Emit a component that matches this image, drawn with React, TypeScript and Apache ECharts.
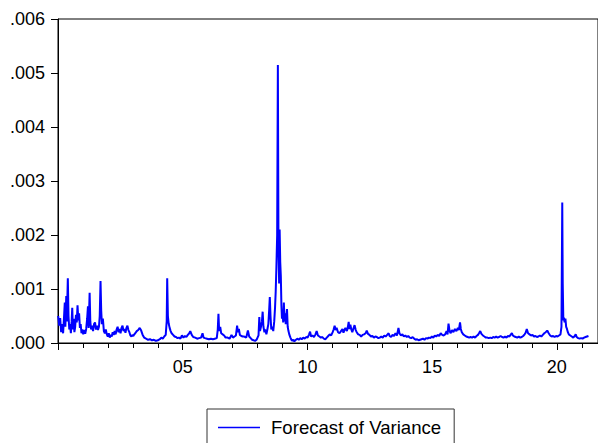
import React, { useEffect, useRef } from "react";
import * as echarts from "echarts";

// Forecast of conditional variance, [decimal year, variance]
const period2000to2004: [number, number][] = [
  [2000.008, 5.0e-4], [2000.047, 3.2e-4], [2000.087, 4.6e-4], [2000.126, 2.0e-4], [2000.165, 3.5e-4],
  [2000.205, 1.8e-4], [2000.244, 5.0e-4], [2000.272, 7.5e-4], [2000.295, 3.0e-4], [2000.331, 8.7e-4],
  [2000.354, 4.0e-4], [2000.394, 12.0e-4], [2000.421, 5.0e-4], [2000.453, 2.5e-4], [2000.484, 3.5e-4],
  [2000.516, 1.8e-4], [2000.547, 4.0e-4], [2000.571, 6.5e-4], [2000.598, 2.5e-4], [2000.630, 4.5e-4],
  [2000.657, 2.0e-4], [2000.689, 3.0e-4], [2000.720, 5.2e-4], [2000.752, 3.8e-4], [2000.783, 7.0e-4],
  [2000.815, 4.2e-4], [2000.846, 5.5e-4], [2000.878, 2.8e-4], [2000.909, 3.5e-4], [2000.941, 1.8e-4],
  [2000.972, 2.5e-4], [2001.012, 1.6e-4], [2001.051, 2.4e-4], [2001.091, 1.7e-4], [2001.130, 2.6e-4],
  [2001.169, 4.5e-4], [2001.201, 6.8e-4], [2001.228, 2.8e-4], [2001.268, 9.3e-4], [2001.295, 4.0e-4],
  [2001.327, 2.5e-4], [2001.366, 3.2e-4], [2001.406, 2.2e-4], [2001.445, 3.5e-4], [2001.484, 3.8e-4],
  [2001.524, 2.5e-4], [2001.563, 3.2e-4], [2001.602, 2.4e-4], [2001.642, 3.0e-4], [2001.673, 5.0e-4],
  [2001.705, 11.5e-4], [2001.732, 6.0e-4], [2001.760, 3.5e-4], [2001.799, 4.5e-4], [2001.839, 2.2e-4],
  [2001.878, 1.8e-4], [2001.917, 2.5e-4], [2001.957, 1.6e-4], [2001.996, 1.2e-4], [2002.035, 1.8e-4],
  [2002.075, 1.0e-4], [2002.114, 1.5e-4], [2002.154, 1.2e-4], [2002.193, 2.0e-4], [2002.232, 1.5e-4],
  [2002.272, 2.2e-4], [2002.311, 1.6e-4], [2002.350, 2.5e-4], [2002.390, 3.0e-4], [2002.429, 2.0e-4],
  [2002.468, 2.6e-4], [2002.508, 1.8e-4], [2002.547, 2.8e-4], [2002.587, 3.2e-4], [2002.626, 2.2e-4],
  [2002.665, 2.6e-4], [2002.705, 1.9e-4], [2002.744, 2.8e-4], [2002.783, 3.2e-4], [2002.823, 2.4e-4],
  [2002.862, 2.0e-4], [2002.902, 1.4e-4], [2002.941, 1.2e-4], [2002.980, 1.5e-4], [2003.020, 1.3e-4],
  [2003.059, 1.6e-4], [2003.098, 1.8e-4], [2003.157, 2.2e-4], [2003.217, 2.4e-4], [2003.276, 2.8e-4],
  [2003.335, 2.3e-4], [2003.394, 1.5e-4], [2003.453, 1.0e-4], [2003.531, 0.8e-4], [2003.610, 0.6e-4],
  [2003.689, 0.7e-4], [2003.768, 0.5e-4], [2003.846, 0.6e-4], [2003.925, 0.4e-4], [2004.004, 0.5e-4],
  [2004.083, 0.7e-4], [2004.142, 1.0e-4], [2004.201, 0.8e-4], [2004.260, 1.2e-4], [2004.319, 1.5e-4],
  [2004.358, 4.0e-4], [2004.378, 12.0e-4], [2004.406, 5.0e-4], [2004.437, 3.6e-4], [2004.476, 2.8e-4],
  [2004.516, 2.2e-4], [2004.555, 1.8e-4], [2004.614, 1.5e-4], [2004.673, 1.2e-4], [2004.732, 1.1e-4],
  [2004.791, 0.9e-4], [2004.850, 1.0e-4], [2004.909, 0.8e-4], [2004.968, 1.4e-4],
];

const period2005to2007: [number, number][] = [
  [2005.028, 1.0e-4], [2005.087, 1.3e-4], [2005.146, 1.1e-4], [2005.205, 1.5e-4], [2005.264, 1.8e-4],
  [2005.303, 2.2e-4], [2005.362, 1.5e-4], [2005.421, 1.1e-4], [2005.500, 1.0e-4], [2005.579, 0.8e-4],
  [2005.657, 0.9e-4], [2005.736, 1.0e-4], [2005.795, 1.8e-4], [2005.835, 1.0e-4], [2005.894, 0.9e-4],
  [2005.972, 0.8e-4], [2006.051, 0.7e-4], [2006.130, 0.8e-4], [2006.209, 0.7e-4], [2006.287, 0.8e-4],
  [2006.366, 0.9e-4], [2006.405, 2.5e-4], [2006.433, 5.4e-4], [2006.461, 2.2e-4], [2006.504, 3.0e-4],
  [2006.543, 1.8e-4], [2006.602, 1.6e-4], [2006.661, 1.4e-4], [2006.720, 1.0e-4], [2006.799, 1.0e-4],
  [2006.878, 0.8e-4], [2006.957, 1.5e-4], [2007.016, 1.0e-4], [2007.075, 1.2e-4], [2007.134, 1.4e-4],
  [2007.181, 3.2e-4], [2007.213, 2.0e-4], [2007.252, 2.6e-4], [2007.291, 1.5e-4], [2007.350, 1.3e-4],
  [2007.409, 1.2e-4], [2007.468, 1.2e-4], [2007.547, 1.0e-4], [2007.614, 2.3e-4], [2007.665, 1.2e-4],
  [2007.724, 0.9e-4], [2007.783, 0.6e-4], [2007.842, 0.5e-4], [2007.902, 0.4e-4], [2007.961, 0.6e-4],
  [2008.000, 1.0e-4], [2008.039, 1.4e-4],
];

const period2008to2009: [number, number][] = [
  [2008.071, 4.8e-4], [2008.098, 2.2e-4], [2008.138, 3.0e-4], [2008.177, 4.0e-4], [2008.205, 5.8e-4],
  [2008.236, 3.0e-4], [2008.276, 2.0e-4], [2008.315, 2.5e-4], [2008.354, 1.6e-4], [2008.394, 2.5e-4],
  [2008.433, 3.5e-4], [2008.465, 6.0e-4], [2008.492, 8.5e-4], [2008.520, 5.0e-4], [2008.551, 2.5e-4],
  [2008.591, 3.0e-4], [2008.630, 2.2e-4], [2008.669, 4.0e-4], [2008.701, 6.5e-4], [2008.728, 9.5e-4],
  [2008.756, 14.0e-4], [2008.787, 20.0e-4], [2008.815, 51.5e-4], [2008.839, 18.0e-4], [2008.866, 11.0e-4],
  [2008.886, 21.0e-4], [2008.910, 15.0e-4], [2008.933, 12.5e-4], [2008.957, 7.0e-4], [2008.980, 4.5e-4],
  [2009.004, 6.0e-4], [2009.028, 3.8e-4], [2009.055, 7.5e-4], [2009.083, 4.0e-4], [2009.106, 5.5e-4],
  [2009.130, 3.5e-4], [2009.154, 4.8e-4], [2009.181, 6.3e-4], [2009.209, 3.0e-4], [2009.240, 2.2e-4],
  [2009.279, 1.5e-4], [2009.319, 1.0e-4], [2009.358, 0.6e-4], [2009.398, 0.4e-4], [2009.437, 0.6e-4],
  [2009.476, 0.3e-4], [2009.516, 0.5e-4], [2009.594, 0.8e-4],
];

const period2009to2014: [number, number][] = [
  [2009.653, 0.6e-4], [2009.712, 0.9e-4], [2009.771, 0.7e-4], [2009.831, 1.0e-4], [2009.890, 0.8e-4],
  [2009.949, 1.1e-4], [2010.008, 1.0e-4], [2010.067, 1.6e-4], [2010.106, 2.1e-4], [2010.146, 1.2e-4],
  [2010.205, 1.4e-4], [2010.264, 1.1e-4], [2010.323, 1.6e-4], [2010.370, 2.2e-4], [2010.421, 1.4e-4],
  [2010.480, 1.2e-4], [2010.539, 1.0e-4], [2010.598, 1.1e-4], [2010.657, 0.8e-4], [2010.717, 0.7e-4],
  [2010.776, 1.0e-4], [2010.835, 1.3e-4], [2010.894, 1.6e-4], [2010.953, 1.4e-4], [2011.012, 2.0e-4],
  [2011.051, 2.5e-4], [2011.091, 3.2e-4], [2011.130, 2.4e-4], [2011.169, 2.8e-4], [2011.228, 2.0e-4],
  [2011.287, 1.8e-4], [2011.346, 2.2e-4], [2011.406, 2.6e-4], [2011.445, 1.9e-4], [2011.484, 2.4e-4],
  [2011.524, 2.8e-4], [2011.583, 2.2e-4], [2011.622, 3.0e-4], [2011.654, 3.9e-4], [2011.681, 2.6e-4],
  [2011.721, 3.4e-4], [2011.760, 2.5e-4], [2011.799, 2.0e-4], [2011.839, 2.6e-4], [2011.890, 3.3e-4],
  [2011.937, 2.4e-4], [2011.976, 2.0e-4], [2012.035, 1.6e-4], [2012.094, 1.5e-4], [2012.154, 1.2e-4],
  [2012.213, 1.5e-4], [2012.272, 1.6e-4], [2012.331, 1.8e-4], [2012.378, 2.3e-4], [2012.429, 1.7e-4],
  [2012.488, 1.5e-4], [2012.547, 1.2e-4], [2012.606, 1.3e-4], [2012.665, 1.0e-4], [2012.724, 1.2e-4],
  [2012.783, 1.1e-4], [2012.843, 0.9e-4], [2012.902, 1.0e-4], [2012.961, 1.2e-4], [2013.020, 1.0e-4],
  [2013.079, 1.4e-4], [2013.138, 1.2e-4], [2013.197, 1.5e-4], [2013.256, 1.8e-4], [2013.295, 1.3e-4],
  [2013.354, 1.1e-4], [2013.413, 1.5e-4], [2013.472, 1.3e-4], [2013.531, 1.8e-4], [2013.590, 1.4e-4],
  [2013.650, 2.8e-4], [2013.689, 1.8e-4], [2013.748, 1.4e-4], [2013.807, 1.6e-4], [2013.866, 1.2e-4],
  [2013.925, 1.4e-4], [2013.984, 1.1e-4], [2014.043, 1.3e-4], [2014.102, 1.0e-4], [2014.161, 0.9e-4],
  [2014.220, 1.1e-4], [2014.280, 0.8e-4], [2014.339, 0.6e-4], [2014.398, 0.7e-4], [2014.457, 0.5e-4],
  [2014.516, 0.6e-4], [2014.575, 0.7e-4], [2014.634, 0.8e-4], [2014.693, 0.6e-4], [2014.752, 0.9e-4],
  [2014.811, 0.8e-4], [2014.870, 1.0e-4], [2014.929, 0.9e-4], [2014.988, 1.2e-4],
];

const period2015to2021: [number, number][] = [
  [2015.047, 1.0e-4], [2015.106, 1.4e-4], [2015.165, 1.2e-4], [2015.224, 1.5e-4], [2015.283, 1.3e-4],
  [2015.342, 1.8e-4], [2015.402, 1.5e-4], [2015.461, 1.4e-4], [2015.520, 1.6e-4], [2015.579, 2.2e-4],
  [2015.618, 1.6e-4], [2015.657, 3.6e-4], [2015.697, 2.3e-4], [2015.736, 1.8e-4], [2015.795, 2.4e-4],
  [2015.854, 2.0e-4], [2015.913, 2.6e-4], [2015.972, 2.2e-4], [2016.031, 2.8e-4], [2016.071, 2.4e-4],
  [2016.118, 3.8e-4], [2016.150, 2.6e-4], [2016.189, 2.0e-4], [2016.248, 1.6e-4], [2016.307, 1.4e-4],
  [2016.366, 1.2e-4], [2016.425, 1.1e-4], [2016.484, 1.0e-4], [2016.543, 1.1e-4], [2016.602, 1.0e-4],
  [2016.661, 1.2e-4], [2016.720, 1.0e-4], [2016.780, 1.3e-4], [2016.839, 1.5e-4], [2016.878, 1.8e-4],
  [2016.929, 2.2e-4], [2016.976, 1.7e-4], [2017.035, 1.4e-4], [2017.094, 1.2e-4], [2017.154, 1.0e-4],
  [2017.213, 1.0e-4], [2017.272, 0.9e-4], [2017.331, 1.0e-4], [2017.390, 0.9e-4], [2017.449, 1.1e-4],
  [2017.508, 1.0e-4], [2017.567, 1.2e-4], [2017.626, 1.0e-4], [2017.685, 1.1e-4], [2017.744, 1.3e-4],
  [2017.803, 1.1e-4], [2017.862, 1.0e-4], [2017.921, 1.2e-4], [2017.980, 1.0e-4], [2018.039, 1.3e-4],
  [2018.098, 1.2e-4], [2018.157, 1.6e-4], [2018.197, 1.8e-4], [2018.236, 1.4e-4], [2018.295, 1.2e-4],
  [2018.354, 1.1e-4], [2018.413, 1.0e-4], [2018.472, 1.2e-4], [2018.531, 1.0e-4], [2018.591, 1.1e-4],
  [2018.650, 1.3e-4], [2018.709, 1.6e-4], [2018.748, 1.9e-4], [2018.795, 2.6e-4], [2018.846, 1.8e-4],
  [2018.906, 1.6e-4], [2018.965, 1.4e-4], [2019.024, 1.5e-4], [2019.083, 1.2e-4], [2019.142, 1.3e-4],
  [2019.201, 1.1e-4], [2019.260, 1.2e-4], [2019.319, 1.4e-4], [2019.378, 1.2e-4], [2019.437, 1.5e-4],
  [2019.496, 1.8e-4], [2019.555, 2.0e-4], [2019.614, 2.3e-4], [2019.673, 1.8e-4], [2019.732, 1.4e-4],
  [2019.791, 1.2e-4], [2019.850, 1.3e-4], [2019.909, 1.1e-4], [2019.969, 1.3e-4], [2020.028, 1.2e-4],
  [2020.087, 1.4e-4], [2020.146, 1.6e-4], [2020.185, 3.0e-4], [2020.217, 26.0e-4], [2020.236, 11.0e-4],
  [2020.260, 4.2e-4], [2020.283, 4.7e-4], [2020.311, 3.8e-4], [2020.343, 4.5e-4], [2020.374, 3.0e-4],
  [2020.406, 2.6e-4], [2020.441, 2.0e-4], [2020.480, 1.6e-4], [2020.539, 1.4e-4], [2020.598, 1.2e-4],
  [2020.657, 1.0e-4], [2020.717, 1.3e-4], [2020.756, 1.6e-4], [2020.795, 1.1e-4], [2020.854, 0.9e-4],
  [2020.913, 0.8e-4], [2020.972, 0.9e-4], [2021.031, 0.8e-4], [2021.091, 1.0e-4], [2021.150, 1.1e-4],
  [2021.209, 1.2e-4], [2021.268, 1.3e-4],
];

const seriesName = "Forecast of Variance";
const yearTicks = [2005, 2010, 2015, 2020];

const FONT = "'Liberation Sans', Arial, Helvetica, sans-serif";

export default function App() {
  const ref = useRef<HTMLDivElement>(null);

  useEffect(() => {
    if (!ref.current) return;
    const chart = echarts.init(ref.current, undefined, { renderer: "svg" });

    const data = [
      ...period2000to2004,
      ...period2005to2007,
      ...period2008to2009,
      ...period2009to2014,
      ...period2015to2021,
    ];

    chart.setOption({
      animation: false,
      backgroundColor: "#ffffff",
      textStyle: { fontFamily: FONT },
      grid: {
        left: 58,
        top: 19,
        right: -10,
        bottom: 100,
        show: true,
        borderColor: "#000000",
        borderWidth: 1,
        backgroundColor: "transparent",
      },
      legend: {
        data: [seriesName],
        left: 207,
        top: 409,
        orient: "horizontal",
        padding: [9, 13, 9, 11],
        borderColor: "#333333",
        borderWidth: 1,
        icon: "rect",
        itemWidth: 42,
        itemHeight: 1.5,
        itemStyle: { color: "#0000ff" },
        textStyle: {
          fontFamily: FONT,
          fontSize: 18.6,
          color: "#000000",
          padding: [0, 0, 0, 6],
        },
      },
      xAxis: {
        type: "value",
        min: 2000,
        max: 2021.65,
        interval: 5,
        axisLine: { show: true, lineStyle: { color: "#000000", width: 1 } },
        axisTick: { show: true, length: 7, lineStyle: { color: "#000000" } },
        minorTick: { show: true, splitNumber: 5, length: 5, lineStyle: { color: "#000000" } },
        splitLine: { show: false },
        minorSplitLine: { show: false },
        axisLabel: {
          margin: 15,
          fontSize: 18,
          color: "#000000",
          fontFamily: FONT,
          showMinLabel: true,
          showMaxLabel: false,
          formatter: (v: number) => {
            const y = Math.round(v);
            if (Math.abs(v - y) > 1e-6 || !yearTicks.includes(y)) return "";
            return String(y).slice(2);
          },
        },
      },
      yAxis: {
        type: "value",
        min: 0,
        max: 0.006,
        interval: 0.001,
        axisLine: { show: true, lineStyle: { color: "#000000", width: 1 } },
        axisTick: { show: true, length: 7, lineStyle: { color: "#000000" } },
        splitLine: { show: false },
        axisLabel: {
          margin: 13,
          fontSize: 18,
          color: "#000000",
          fontFamily: FONT,
          formatter: (v: number) => v.toFixed(3).slice(1),
        },
      },
      series: [
        {
          name: seriesName,
          type: "line",
          data,
          showSymbol: false,
          symbol: "none",
          lineStyle: { color: "#0000ff", width: 2 },
          itemStyle: { color: "#0000ff" },
          clip: true,
        },
      ],
    });

    return () => chart.dispose();
  }, []);

  return (
    <div
      ref={ref}
      style={{ position: "absolute", left: 0, top: 0, width: 598, height: 443 }}
    />
  );
}
